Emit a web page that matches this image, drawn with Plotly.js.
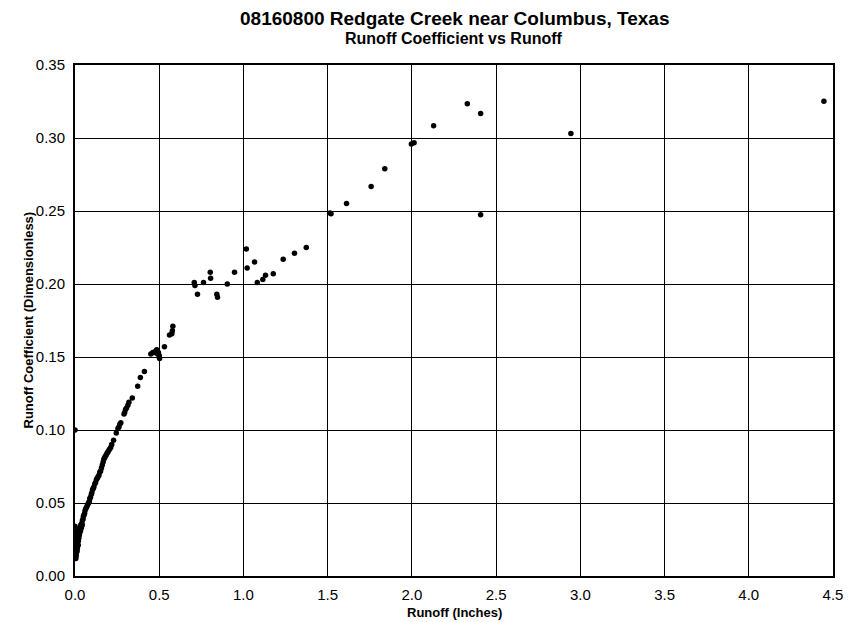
<!DOCTYPE html>
<html>
<head>
<meta charset="utf-8">
<script src="https://cdn.plot.ly/plotly-3.0.1.min.js"></script>
<style>html,body{margin:0;padding:0;background:#fff}#chart{width:852px;height:622px}</style>
</head>
<body>
<div id="chart"></div>
<script>
var runoff = [
0.000,0.001,0.001,0.002,0.001,0.002,0.003,0.002,0.004,0.005,0.007,0.008,0.010,0.006,0.012,0.011,0.014,0.009,0.016,0.015,
0.019,0.013,0.020,0.018,0.023,0.021,0.026,0.025,0.029,0.030,0.033,0.034,0.038,0.040,0.043,0.044,0.048,0.050,0.054,0.057,
0.060,0.064,0.068,0.072,0.076,0.080,0.085,0.088,0.092,0.097,0.100,0.104,0.108,0.112,0.117,0.122,0.127,0.132,0.137,0.142,
0.147,0.152,0.157,0.162,0.167,0.171,0.176,0.180,0.186,0.190,0.195,0.200,0.206,0.212,0.218,0.229,0.245,0.255,0.261,0.266,
0.272,0.291,0.295,0.300,0.306,0.314,0.320,0.340,0.372,0.388,0.412,0.450,0.462,0.470,0.478,0.485,0.490,0.495,0.500,0.502,
0.531,0.561,0.575,0.578,0.581,0.000,
0.708,0.712,0.727,0.763,0.803,0.805,0.842,0.846,0.904,0.947,1.017,1.022,1.066,1.082,1.115,1.131,1.177,1.236,1.303,1.373,
1.514,1.520,1.612,1.758,1.839,1.997,2.013,2.129,2.329,2.408,2.408,2.944,4.446
];
var runoffCoefficient = [
0.034,0.031,0.028,0.025,0.022,0.019,0.017,0.015,0.013,0.012,0.014,0.016,0.018,0.020,0.017,0.021,0.019,0.024,0.022,0.025,
0.021,0.027,0.024,0.028,0.026,0.030,0.028,0.032,0.030,0.033,0.031,0.035,0.033,0.036,0.035,0.038,0.039,0.041,0.042,0.043,
0.045,0.046,0.047,0.048,0.049,0.050,0.051,0.053,0.054,0.056,0.057,0.059,0.060,0.061,0.063,0.064,0.066,0.067,0.068,0.069,
0.071,0.072,0.074,0.076,0.078,0.080,0.081,0.082,0.083,0.084,0.085,0.086,0.087,0.088,0.090,0.093,0.098,0.101,0.102,0.104,
0.105,0.111,0.112,0.114,0.115,0.117,0.119,0.122,0.130,0.136,0.140,0.152,0.153,0.153,0.154,0.155,0.152,0.153,0.151,0.149,
0.157,0.165,0.166,0.168,0.171,0.100,
0.201,0.199,0.193,0.201,0.208,0.204,0.193,0.191,0.200,0.208,0.224,0.211,0.215,0.201,0.203,0.206,0.207,0.217,0.221,0.225,
0.2486,0.2482,0.2552,0.2668,0.2789,0.2959,0.2968,0.3084,0.3234,0.3168,0.2475,0.303,0.3252
];
var titleMain = "08160800 Redgate Creek near Columbus, Texas";
var titleSub = "Runoff Coefficient vs Runoff";
var xTitle = "Runoff (Inches)";
var yTitle = "Runoff Coefficient (Dimensionless)";
var xTicks = [0,0.5,1,1.5,2,2.5,3,3.5,4,4.5];
var xTickLabels = ["0.0","0.5","1.0","1.5","2.0","2.5","3.0","3.5","4.0","4.5"];
var yTicks = [0,0.05,0.10,0.15,0.20,0.25,0.30,0.35];
var yTickLabels = ["0.00","0.05","0.10","0.15","0.20","0.25","0.30","0.35"];

var FONT = "Liberation Sans, Arial, sans-serif";
var trace = {
  x: runoff, y: runoffCoefficient, type: "scatter", mode: "markers",
  marker: {color: "#000", size: 5.5}, hoverinfo: "skip"
};
var layout = {
  width: 852, height: 622,
  margin: {l: 75, r: 19, t: 65, b: 46},
  paper_bgcolor: "#fff", plot_bgcolor: "#fff",
  showlegend: false,
  font: {family: FONT, color: "#000", size: 15},
  xaxis: {
    range: [0, 4.5], tickvals: xTicks, ticktext: xTickLabels,
    showgrid: true, gridcolor: "#000", gridwidth: 1,
    zeroline: false, showline: true, linecolor: "#000", linewidth: 2, mirror: true,
    ticks: "", tickfont: {family: FONT, size: 15}, ticklabelstandoff: 4,
    automargin: false
  },
  yaxis: {
    range: [0, 0.35], tickvals: yTicks, ticktext: yTickLabels,
    showgrid: true, gridcolor: "#000", gridwidth: 1,
    zeroline: false, showline: true, linecolor: "#000", linewidth: 2, mirror: true,
    ticks: "", tickfont: {family: FONT, size: 15}, ticklabelstandoff: 5,
    automargin: false
  },
  annotations: [
    {text: "<b>" + titleMain + "</b>", xref: "paper", yref: "paper", x: 0.5, y: 1, yshift: 47,
     xanchor: "center", yanchor: "middle", showarrow: false, font: {family: FONT, size: 19}},
    {text: "<b>" + titleSub + "</b>", xref: "paper", yref: "paper", x: 0.5, y: 1, yshift: 27,
     xanchor: "center", yanchor: "middle", showarrow: false, font: {family: FONT, size: 16}},
    {text: "<b>" + xTitle + "</b>", xref: "paper", yref: "paper", x: 0.5, y: 0, yshift: -36,
     xanchor: "center", yanchor: "middle", showarrow: false, font: {family: FONT, size: 13}},
    {text: "<b>" + yTitle + "</b>", xref: "paper", yref: "paper", x: 0, y: 0.5, xshift: -47,
     xanchor: "center", yanchor: "middle", textangle: -90, showarrow: false, font: {family: FONT, size: 13}}
  ]
};
Plotly.newPlot("chart", [trace], layout, {staticPlot: true, displayModeBar: false});
</script>
</body>
</html>
